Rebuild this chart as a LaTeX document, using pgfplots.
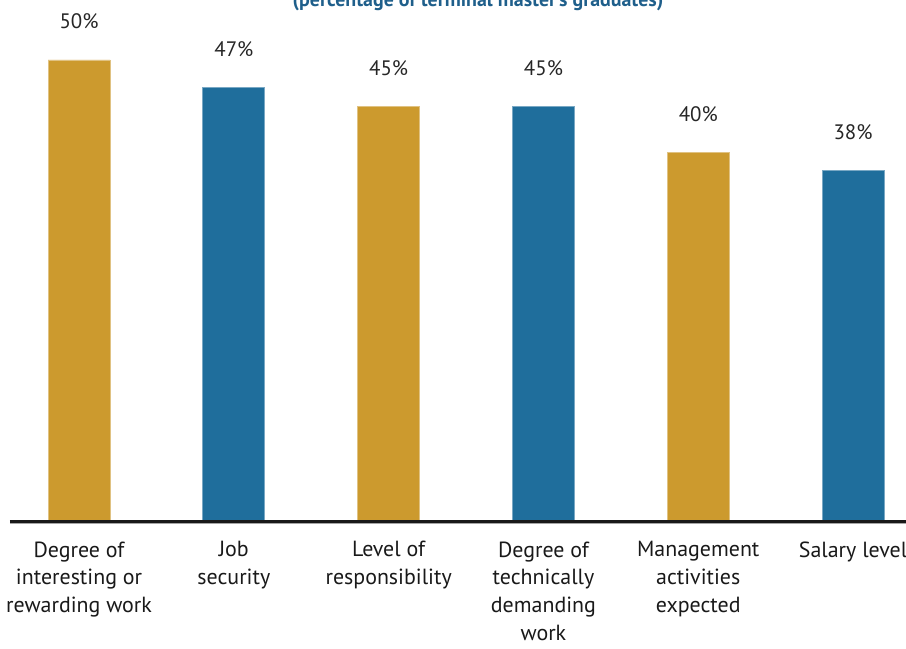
\documentclass[border=0pt]{standalone}
\usepackage{pgfplots}
\pgfplotsset{compat=1.18}
\usepackage{fontspec}
\setmainfont{PT Sans}
\definecolor{gold}{HTML}{CC9A2E}
\definecolor{blu}{HTML}{1F6E9C}
\definecolor{titleblue}{HTML}{1F5F8B}
\begin{document}
\begin{tikzpicture}
\begin{axis}[
  scale only axis,
  width=896bp, height=521bp,
  xmin=-0.446, xmax=5.342,
  ymin=0, ymax=56.5,
  axis x line*=bottom,
  axis y line=none,
  axis line style={draw=none},
  xtick={0,1,2,3,4,5},
  xticklabels={{Degree of\\interesting or\\rewarding work},{Job\\security},{Level of\\responsibility},{Degree of\\technically\\demanding\\work},{Management\\activities\\expected},{Salary level}},
  major tick length=0pt,
  xticklabel style={align=center, font=\fontsize{22}{28}\selectfont, text=black!90, anchor=north, yshift=-17bp},
  ybar, bar width=62bp, bar shift=0pt,
  clip=false,
  nodes near coords={\pgfmathprintnumber{\pgfplotspointmeta}\%},
  nodes near coords style={anchor=base, yshift=31bp, font=\fontsize{21}{25}\selectfont, text=black!85, /pgf/number format/assume math mode=true},
]
\addplot[fill=gold, draw=gold!60!white, line width=0.8bp] coordinates {(0,50) (2,45) (4,40)};
\addplot[fill=blu, draw=blu!60!white, line width=0.8bp] coordinates {(1,47) (3,45) (5,38)};
\draw[line width=2bp, black!35] ([yshift=-2bp]rel axis cs:0,0) -- ([yshift=-2bp]rel axis cs:1,0);
\draw[line width=3bp, black!90] (rel axis cs:0,0) -- (rel axis cs:1,0);
\coordinate (ll) at (rel axis cs:0,0);
\coordinate (ur) at (rel axis cs:1,1);
\end{axis}
\node[anchor=base, font=\bfseries\fontsize{20}{24}\selectfont, text=titleblue] at ([shift={(468bp,-7bp)}]ll |- ur) {(percentage of terminal master's graduates)};
\pgfresetboundingbox
\path[use as bounding box] ([shift={(-10bp,-128bp)}]ll) rectangle (ur);
\end{tikzpicture}
\end{document}
